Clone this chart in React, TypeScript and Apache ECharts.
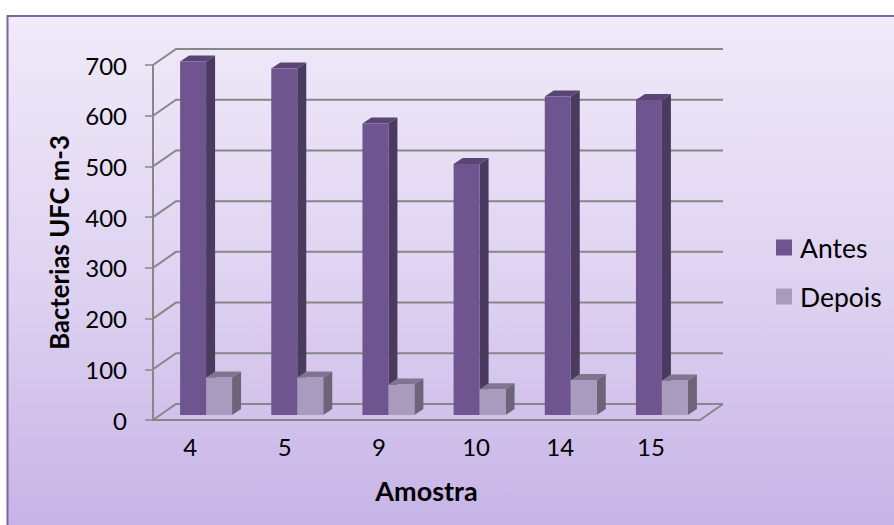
import React, { useEffect, useRef } from "react";
import * as echarts from "echarts";

const amostras = ["4", "5", "9", "10", "14", "15"];
const antes = [697, 683, 575, 495, 628, 621];
const depois = [74, 74, 60, 51, 69, 68];
const yTicks = [0, 100, 200, 300, 400, 500, 600, 700];

// Receding depth of the floor and back wall, in pixels.
const WALL_DX = 23;
const WALL_DY = -16;
// Bars stand a third of the way into the floor.
const BAR_DX = 7.5;
const BAR_DY = -5;
const BAR_SIDE_DX = 9;
const BAR_SIDE_DY = -6;
const BAR_BAND_SHARE = 0.285;
// Small per-label shifts of the category texts.
const labelShift = [8.5, 5, 2, -4, 3, 3.5];

const GRID_LINE = "#878787";

function wallRenderer(params: any, api: any) {
  const value = api.value(0);
  const y = api.coord([0, value])[1];
  const g = params.coordSys;
  const right = g.x + g.width;
  const children: any[] = [
    {
      type: "polyline",
      shape: {
        points: [
          [g.x, y],
          [g.x + WALL_DX, y + WALL_DY],
          [right + WALL_DX, y + WALL_DY],
        ],
      },
      style: { stroke: GRID_LINE, lineWidth: 2, fill: "none" },
    },
  ];
  if (value === 0) {
    children.push({
      type: "line",
      shape: { x1: right, y1: y, x2: right + WALL_DX, y2: y + WALL_DY },
      style: { stroke: GRID_LINE, lineWidth: 2 },
    });
  }
  return { type: "group", children };
}

function barRenderer(slot: number, front: string, side: string, top: string) {
  return (_params: any, api: any) => {
    const cat = api.value(0);
    const val = api.value(1);
    const base = api.coord([cat, 0]);
    const head = api.coord([cat, val]);
    const w = api.size([1, 0])[0] * BAR_BAND_SHARE;
    const x0 = base[0] + BAR_DX + (slot - 1) * w;
    const x1 = x0 + w;
    const yb = base[1] + BAR_DY;
    const yt = head[1] + BAR_DY;
    return {
      type: "group",
      children: [
        {
          type: "polygon",
          shape: {
            points: [
              [x1, yb],
              [x1 + BAR_SIDE_DX, yb + BAR_SIDE_DY],
              [x1 + BAR_SIDE_DX, yt + BAR_SIDE_DY],
              [x1, yt],
            ],
          },
          style: { fill: side },
        },
        {
          type: "polygon",
          shape: {
            points: [
              [x0, yt],
              [x1, yt],
              [x1 + BAR_SIDE_DX, yt + BAR_SIDE_DY],
              [x0 + BAR_SIDE_DX, yt + BAR_SIDE_DY],
            ],
          },
          style: { fill: top },
        },
        {
          type: "rect",
          shape: { x: x0, y: yt, width: w, height: yb - yt },
          style: { fill: front },
        },
      ],
    };
  };
}

export default function App() {
  const ref = useRef<HTMLDivElement>(null);

  useEffect(() => {
    document.body.style.margin = "0";
    const chart = echarts.init(ref.current!, undefined, { renderer: "svg" });
    const font = "Lato";
    const rich: Record<string, any> = {};
    labelShift.forEach((s, i) => {
      rich["c" + i] = {
        fontFamily: font,
        fontSize: 24,
        color: "#000",
        padding: s > 0 ? [0, s * 2, 0, 0] : [0, 0, 0, -s * 2],
      };
    });

    chart.setOption({
      animation: false,
      graphic: [
        {
          type: "rect",
          z: -10,
          shape: { x: 7.5, y: 16, width: 900, height: 520 },
          style: {
            fill: new echarts.graphic.LinearGradient(0, 0, 0, 1, [
              { offset: 0, color: "#F0EAF9" },
              { offset: 0.5, color: "#DFD3F1" },
              { offset: 1, color: "#C6B2E6" },
            ]),
            stroke: "#8064A2",
            lineWidth: 2,
          },
        },
      ],
      legend: {
        orient: "vertical",
        left: 776,
        top: 234,
        padding: 0,
        itemWidth: 16,
        itemHeight: 16,
        itemGap: 22,
        icon: "rect",
        textStyle: { fontFamily: font, fontSize: 26.5, color: "#000", padding: [0, 0, 0, 3] },
        data: ["Antes", "Depois"],
      },
      grid: { left: 153, top: 65, width: 547, height: 355 },
      xAxis: {
        type: "category",
        data: amostras,
        name: "Amostra",
        nameLocation: "middle",
        nameGap: 57,
        nameTextStyle: { fontFamily: font, fontSize: 27, fontWeight: "bold", color: "#000" },
        axisLine: { lineStyle: { color: GRID_LINE, width: 2 } },
        axisTick: { show: false },
        axisLabel: {
          margin: 14,
          formatter: (v: string) => `{c${amostras.indexOf(v)}|${v}}`,
          rich,
        },
      },
      yAxis: {
        type: "value",
        min: 0,
        max: 700,
        interval: 100,
        name: "Bacterias UFC m-3",
        nameLocation: "middle",
        nameGap: 81,
        nameTextStyle: { fontFamily: font, fontSize: 25.7, fontWeight: "bold", color: "#000" },
        splitLine: { show: false },
        axisLine: { show: true, lineStyle: { color: GRID_LINE, width: 2 } },
        axisTick: { show: true, length: 8, lineStyle: { color: GRID_LINE, width: 1.5 } },
        axisLabel: { fontFamily: font, fontSize: 24, color: "#000", margin: 26 },
      },
      series: [
        {
          type: "custom",
          silent: true,
          z: 1,
          renderItem: wallRenderer,
          encode: { y: 0 },
          data: yTicks.map((v) => [v]),
        },
        {
          name: "Antes",
          type: "custom",
          z: 3,
          itemStyle: { color: "#6F5590" },
          renderItem: barRenderer(0, "#6F5590", "#4A3A60", "#5A4672"),
          encode: { x: 0, y: 1 },
          data: antes.map((v, i) => [i, v]),
        },
        {
          name: "Depois",
          type: "custom",
          z: 4,
          itemStyle: { color: "#A99BBD" },
          renderItem: barRenderer(1, "#A99BBD", "#6C6478", "#7F7590"),
          encode: { x: 0, y: 1 },
          data: depois.map((v, i) => [i, v]),
        },
      ],
    });
    return () => chart.dispose();
  }, []);

  return <div ref={ref} style={{ width: 894, height: 525 }} />;
}
